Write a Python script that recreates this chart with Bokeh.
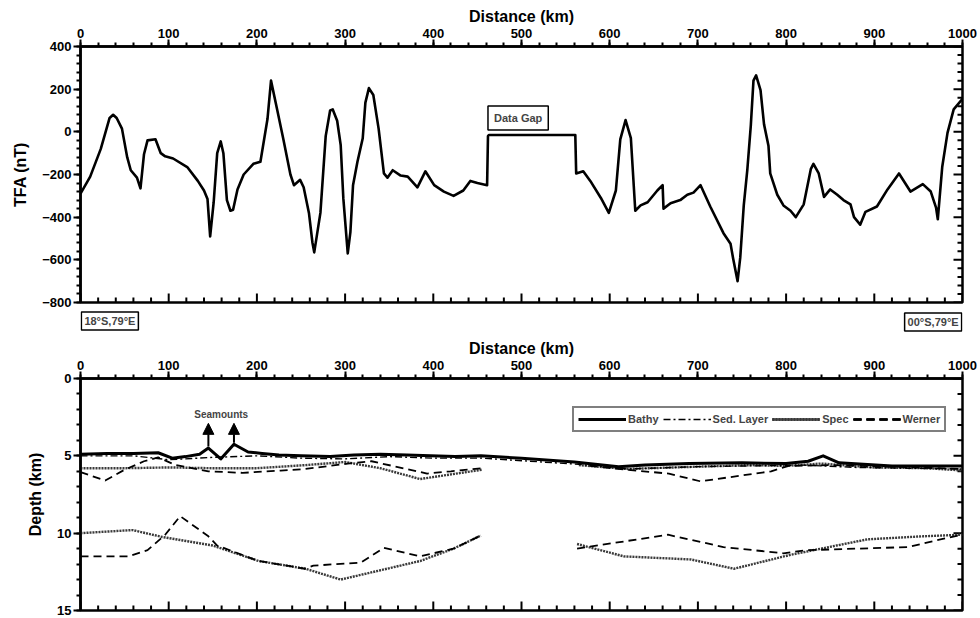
import numpy as np
from bokeh.plotting import figure
from bokeh.models import (Range1d, LinearAxis, FixedTicker, Label, Legend,
                          LegendItem, Arrow, NormalHead)
from bokeh.layouts import column
from bokeh.embed import file_html
from bokeh.resources import INLINE

FONT = "Liberation Sans"

# ---------------- data: total field anomaly profile ----------------
tfa_km = [0, 11, 23, 33, 37, 41, 47, 53, 57, 64, 68, 72, 76, 85, 91, 96, 105, 121,
          133, 140, 144, 147, 151, 155, 159, 162, 166, 170, 173, 178, 185, 196,
          204, 212, 216, 223, 230, 238, 242, 249, 253, 259, 263, 265, 272, 278,
          283, 286, 291, 295, 298, 303, 306, 309, 314, 320, 323, 327, 332, 338,
          344, 348, 354, 363, 371, 382, 391, 401, 412, 423, 434, 442, 450, 461,
          462, 463, 561, 562, 570, 578, 590, 599, 607, 612, 618, 624, 629, 635,
          643, 654, 660, 661, 669, 680, 688, 695, 703, 714, 729, 737, 740, 745,
          748, 752, 756, 760, 763, 766, 771, 775, 780, 782, 790, 797, 805, 811,
          820, 828, 831, 837, 843, 850, 858, 865, 873, 877, 884, 890, 903, 915,
          928, 941, 955, 964, 970, 972, 977, 983, 990, 1000]
tfa_nT = [-290, -210, -80, 65, 80, 65, 15, -120, -180, -215, -265, -105, -40, -35,
          -100, -115, -125, -165, -230, -275, -315, -490, -330, -100, -45, -100,
          -320, -370, -365, -270, -200, -150, -140, 60, 240, 104, -35, -200, -250,
          -225, -260, -380, -520, -565, -380, -20, 100, 105, 52, -62, -312, -570,
          -470, -250, -140, -30, 137, 205, 173, 15, -195, -215, -180, -205, -210,
          -260, -185, -250, -280, -300, -275, -230, -240, -250, -20, -15, -15,
          -195, -185, -230, -310, -380, -275, -35, 55, -30, -370, -345, -330, -275,
          -250, -360, -335, -320, -295, -285, -250, -350, -475, -525, -595, -700,
          -590, -345, -180, 30, 240, 265, 195, 35, -65, -195, -295, -345, -370,
          -400, -340, -175, -150, -195, -305, -270, -295, -320, -340, -400, -435,
          -375, -350, -270, -195, -280, -245, -280, -355, -410, -165, -5, 105, 155]

# ---------------- data: depth section ----------------
bathy_km = [0, 30, 60, 88, 104, 119, 135, 145, 159, 174, 190, 206, 225, 250, 283,
            310, 340, 370, 397, 425, 454, 500, 560, 610, 640, 690, 750, 800, 825,
            842, 860, 920, 1000]
bathy_d = [4.9, 4.85, 4.85, 4.8, 5.15, 5.05, 4.9, 4.5, 5.2, 4.25, 4.75, 4.85, 4.95,
           5.0, 5.05, 4.95, 4.9, 4.95, 5.0, 5.05, 5.0, 5.15, 5.4, 5.7, 5.6, 5.5,
           5.45, 5.5, 5.35, 5.0, 5.45, 5.65, 5.65]

sed_km = [0, 60, 100, 150, 200, 250, 300, 350, 400, 455, 565, 620, 700, 760, 820,
          880, 940, 1000]
sed_d = [5.0, 5.0, 5.25, 5.1, 5.0, 5.15, 5.2, 5.05, 5.15, 5.15, 5.55, 5.85, 5.7,
         5.65, 5.6, 5.75, 5.8, 5.85]

spec_up_l_km = [0, 50, 100, 150, 200, 255, 300, 340, 385, 420, 455]
spec_up_l_d = [5.8, 5.8, 5.75, 5.8, 5.8, 5.6, 5.4, 5.8, 6.5, 6.2, 5.9]
spec_up_r_km = [565, 620, 700, 760, 800, 840, 900, 960, 1000]
spec_up_r_d = [5.6, 5.85, 5.7, 5.6, 5.65, 5.5, 5.75, 5.8, 5.95]
spec_lo_l_km = [0, 59, 93, 150, 202, 255, 295, 340, 385, 423, 454]
spec_lo_l_d = [10.0, 9.8, 10.25, 10.8, 11.8, 12.3, 13.0, 12.4, 11.8, 11.0, 10.15]
spec_lo_r_km = [563, 616, 692, 741, 805, 892, 956, 1000]
spec_lo_r_d = [10.7, 11.5, 11.7, 12.3, 11.4, 10.4, 10.2, 10.1]

wer_up_l_km = [0, 28, 50, 72, 88, 108, 145, 184, 227, 255, 303, 330, 393, 420, 455]
wer_up_l_d = [6.05, 6.6, 5.9, 5.35, 5.1, 5.6, 6.0, 6.1, 5.95, 5.85, 5.5, 5.35,
              6.15, 6.0, 5.8]
wer_up_r_km = [577, 620, 667, 703, 783, 803, 850, 920, 1000]
wer_up_r_d = [5.65, 5.9, 6.15, 6.65, 6.0, 5.65, 5.6, 5.7, 5.85]
wer_lo_l_km = [0, 54, 76, 96, 113, 145, 155, 202, 255, 264, 318, 344, 385, 423, 454]
wer_lo_l_d = [11.5, 11.5, 11.1, 10.1, 8.9, 10.2, 10.8, 11.8, 12.3, 12.1, 11.9,
              10.95, 11.5, 11.0, 10.15]
wer_lo_r_km = [563, 666, 729, 797, 823, 938, 975, 1000]
wer_lo_r_d = [11.0, 10.1, 10.9, 11.3, 11.1, 10.9, 10.4, 10.1]

seamount_km = [145, 174]
seamount_d = [4.5, 4.25]

x_major = list(range(0, 1001, 100))
x_minor = list(range(0, 1001, 20))
tfa_major = list(range(-800, 401, 200))
tfa_minor = list(range(-800, 401, 40))
dep_major = [0, 5, 10, 15]
dep_minor = list(range(0, 16))

W = 980
BORDER_L, BORDER_R = 80, 18
FRAME_W = W - BORDER_L - BORDER_R


def style_axis(ax, ticks, minor, title):
    ax.ticker = FixedTicker(ticks=ticks, minor_ticks=minor)
    ax.major_tick_in = 0
    ax.major_tick_out = 7
    ax.minor_tick_in = 0
    ax.minor_tick_out = 4
    ax.major_tick_line_width = 2
    ax.minor_tick_line_width = 2
    ax.axis_line_width = 2.5
    ax.major_label_text_font = FONT
    ax.major_label_text_font_style = "bold"
    ax.major_label_text_color = "black"
    ax.major_label_text_font_size = "13px"
    ax.major_label_standoff = 2
    ax.axis_label = title
    ax.axis_label_text_font = FONT
    ax.axis_label_text_font_style = "bold"
    ax.axis_label_text_font_size = "16px"
    ax.axis_label_text_color = "black"
    ax.axis_label_standoff = 1


def make_fig(height, y0, y1, border_top, border_bottom):
    p = figure(width=W, height=height, x_range=Range1d(0, 1000),
               y_range=Range1d(y0, y1),
               output_backend="svg", toolbar_location=None,
               x_axis_location=None, y_axis_location=None,
               min_border_left=BORDER_L, min_border_right=BORDER_R,
               min_border_top=border_top, min_border_bottom=border_bottom)
    p.xgrid.visible = False
    p.ygrid.visible = False
    p.outline_line_color = "black"
    p.outline_line_width = 2.5
    p.background_fill_color = "white"
    p.border_fill_color = "white"
    return p


def add_axes(p, yt, ym, ytitle):
    top = LinearAxis()
    style_axis(top, x_major, x_minor, "Distance (km)")
    p.add_layout(top, "above")
    left = LinearAxis()
    style_axis(left, yt, ym, ytitle)
    left.axis_label_standoff = 10
    p.add_layout(left, "left")


def add_inner_ticks(p, frame_h, xt, xm, yt, ym):
    """Inward ticks on the bottom and right frame sides (major 9 px, minor 5 px)."""
    xr, yr = p.x_range, p.y_range
    dx = (xr.end - xr.start) / FRAME_W
    dy = (yr.end - yr.start) / frame_h
    xs = list(xt) + [m for m in xm if m not in xt]
    xl = [9] * len(xt) + [5] * (len(xs) - len(xt))
    ys = list(yt) + [m for m in ym if m not in yt]
    yl = [9] * len(yt) + [5] * (len(ys) - len(yt))
    px, py = [], []
    nan = float("nan")
    for x, L in zip(xs, xl):
        px += [x, x, nan]; py += [yr.start, yr.start + L * dy, nan]
    for y, L in zip(ys, yl):
        px += [xr.end, xr.end - L * dx, nan]; py += [y, y, nan]
    p.line(np.array(px), np.array(py), line_color="black", line_width=2)


# ---------------- top panel ----------------
P1_H, P1_TOP, P1_BOT = 310, 46, 8
p1 = make_fig(P1_H, -800, 400, P1_TOP, P1_BOT)
add_axes(p1, tfa_major, tfa_minor, "TFA (nT)")
add_inner_ticks(p1, P1_H - P1_TOP - P1_BOT, x_major, x_minor, tfa_major, tfa_minor)
p1.line(tfa_km, tfa_nT, line_color="black", line_width=2.6, line_join="round")

gap_start = tfa_km[tfa_km.index(462)]
gap_level = tfa_nT[tfa_km.index(463)]
p1.add_layout(Label(x=gap_start, y=gap_level, y_offset=5, text="Data Gap",
                    text_align="left", text_baseline="bottom",
                    text_font=FONT, text_font_style="bold", text_font_size="11px",
                    border_line_color="black", border_line_width=1.5,
                    background_fill_color="white", padding=6))

# ---------------- strip with the end-point locations ----------------
STRIP_H = 22
strip = make_fig(STRIP_H, 0, 1, 0, 0)
strip.outline_line_color = None
for xpos, txt, align, yy in [(1, "18°S,79°E", "left", 0.52),
                             (999, "00°S,79°E", "right", 0.48)]:
    strip.add_layout(Label(x=xpos, y=yy, text=txt, text_align=align,
                           text_baseline="middle", text_font=FONT,
                           text_font_style="bold", text_font_size="11px",
                           border_line_color="black", border_line_width=1.5,
                           background_fill_color="white", padding=3))

# ---------------- bottom panel ----------------
P2_H, P2_TOP, P2_BOT = 286, 46, 8
p2 = make_fig(P2_H, 15, 0, P2_TOP, P2_BOT)
add_axes(p2, dep_major, dep_minor, "Depth (km)")
add_inner_ticks(p2, P2_H - P2_TOP - P2_BOT, x_major, x_minor, dep_major, dep_minor)

spec_style = dict(line_color="#3a3a3a", line_width=2.4, line_dash="2 1")
wer_style = dict(line_color="black", line_width=1.8, line_dash="8 5")
sed_style = dict(line_color="black", line_width=1.4, line_dash="7 3 2 3")

r_spec = [p2.line(spec_up_l_km, spec_up_l_d, **spec_style),
          p2.line(spec_up_r_km, spec_up_r_d, **spec_style),
          p2.line(spec_lo_l_km, spec_lo_l_d, **spec_style),
          p2.line(spec_lo_r_km, spec_lo_r_d, **spec_style)]
r_wer = [p2.line(wer_up_l_km, wer_up_l_d, **wer_style),
         p2.line(wer_up_r_km, wer_up_r_d, **wer_style),
         p2.line(wer_lo_l_km, wer_lo_l_d, **wer_style),
         p2.line(wer_lo_r_km, wer_lo_r_d, **wer_style)]
r_sed = p2.line(sed_km, sed_d, **sed_style)
r_bathy = p2.line(bathy_km, bathy_d, line_color="black", line_width=3,
                  line_join="round")

legend = Legend(items=[LegendItem(label="Bathy", renderers=[r_bathy]),
                       LegendItem(label="Sed. Layer", renderers=[r_sed]),
                       LegendItem(label="Spec", renderers=r_spec),
                       LegendItem(label="Werner", renderers=r_wer)],
                orientation="horizontal", location=(492, 178),
                border_line_color="black", border_line_width=2,
                background_fill_color="white", background_fill_alpha=1,
                label_text_font=FONT, label_text_font_style="bold",
                label_text_font_size="11px", glyph_width=48, glyph_height=14,
                spacing=4, padding=4, label_standoff=2, margin=0)
p2.add_layout(legend)

for sx, sd in zip(seamount_km, seamount_d):
    p2.add_layout(Arrow(x_start=sx, y_start=sd - 0.1, x_end=sx, y_end=2.9,
                        line_width=2, line_color="black",
                        end=NormalHead(size=11, fill_color="black",
                                       line_color="black")))
p2.add_layout(Label(x=sum(seamount_km) / 2, y=2.35, text="Seamounts",
                    text_align="center", text_baseline="middle",
                    text_font=FONT, text_font_style="bold", text_font_size="10px"))

layout = column(p1, strip, p2, spacing=0)
open("out.html", "w").write(file_html(layout, INLINE))
